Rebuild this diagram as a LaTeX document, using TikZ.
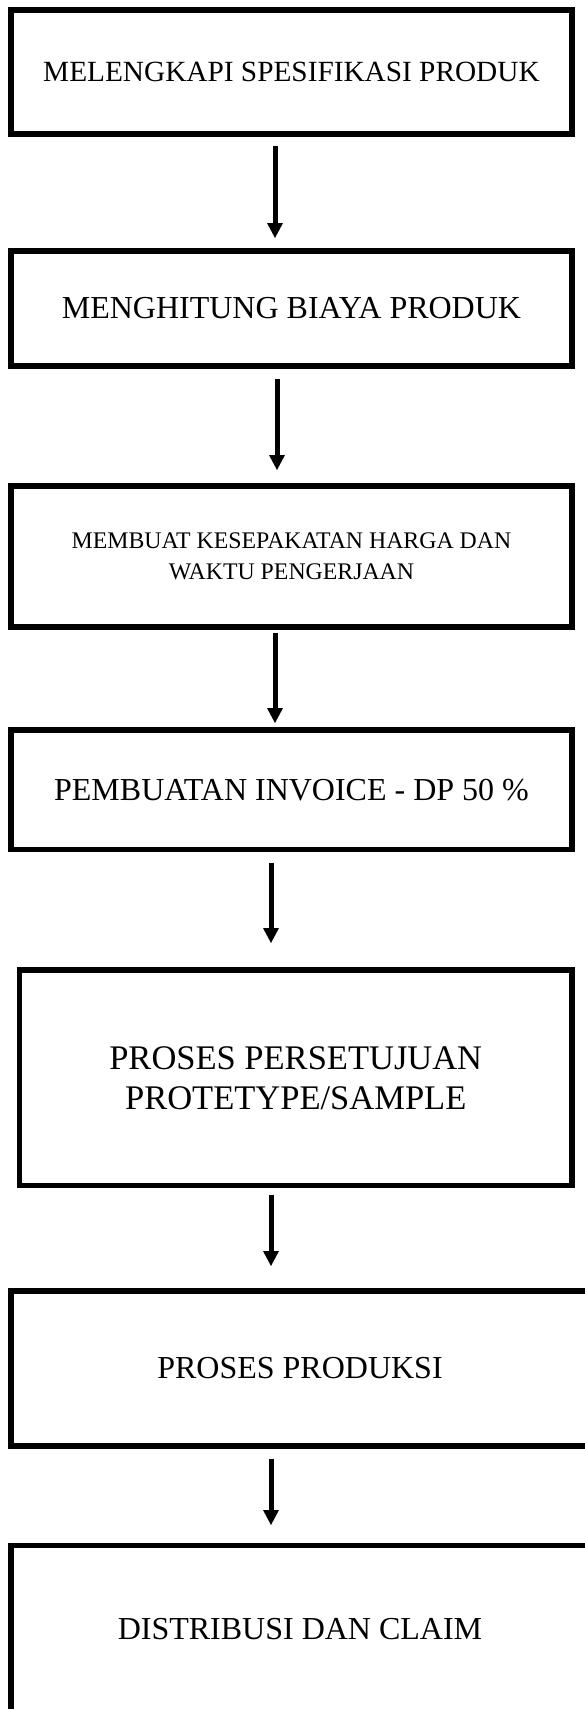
\documentclass[tikz,border=0pt]{standalone}
\usepackage{fontspec}
\setmainfont{Liberation Serif}
\usetikzlibrary{arrows.meta}
\begin{document}
\begin{tikzpicture}[x=1pt,y=-1pt,
  stepbox/.style={draw=black, line width=5.5pt, rectangle, inner sep=0pt, align=center},
  flow/.style={line width=5pt, line cap=butt, -{Triangle[length=15pt,width=16pt,line width=0pt]}}]
\fill[white] (0,0) rectangle (585,1709);
\useasboundingbox (0,0) rectangle (585,1709);

\node[stepbox, minimum width=561pt, minimum height=124pt, font=\fontsize{29.3}{35}\selectfont]
  (b1) at (291.5,72) {MELENGKAPI SPESIFIKASI PRODUK};
\node[stepbox, minimum width=561pt, minimum height=115pt, font=\fontsize{32}{38}\selectfont]
  (b2) at (291.5,308.5) {MENGHITUNG BIAYA PRODUK};
\node[stepbox, minimum width=561pt, minimum height=141pt, font=\fontsize{23.8}{31}\selectfont]
  (b3) at (291.5,556.5) {MEMBUAT KESEPAKATAN HARGA DAN\\WAKTU PENGERJAAN};
\node[stepbox, minimum width=561pt, minimum height=119.5pt, font=\fontsize{32}{38}\selectfont]
  (b4) at (291.5,789.75) {PEMBUATAN INVOICE - DP 50 \%};
\node[stepbox, minimum width=552.5pt, minimum height=215.5pt, font=\fontsize{34.5}{40}\selectfont]
  (b5) at (295.75,1077.75) {PROSES PERSETUJUAN\\PROTETYPE/SAMPLE};
\node[stepbox, minimum width=578pt, minimum height=155pt, font=\fontsize{32}{38}\selectfont]
  (b6) at (300,1368.5) {PROSES PRODUKSI};
\node[stepbox, minimum width=578pt, minimum height=166.5pt, font=\fontsize{32}{38}\selectfont]
  (b7) at (300,1628.75) {DISTRIBUSI DAN CLAIM};

\coordinate (a1s) at (275,146);  \coordinate (a1e) at (275,238);
\coordinate (a2s) at (277,379);  \coordinate (a2e) at (277,470);
\coordinate (a3s) at (275,633);  \coordinate (a3e) at (275,723);
\coordinate (a4s) at (271,863);  \coordinate (a4e) at (271,943);
\coordinate (a5s) at (271,1195); \coordinate (a5e) at (271,1266);
\coordinate (a6s) at (271,1459); \coordinate (a6e) at (271,1525);

\draw[flow] (a1s) -- (a1e);
\draw[flow] (a2s) -- (a2e);
\draw[flow] (a3s) -- (a3e);
\draw[flow] (a4s) -- (a4e);
\draw[flow] (a5s) -- (a5e);
\draw[flow] (a6s) -- (a6e);
\end{tikzpicture}
\end{document}
